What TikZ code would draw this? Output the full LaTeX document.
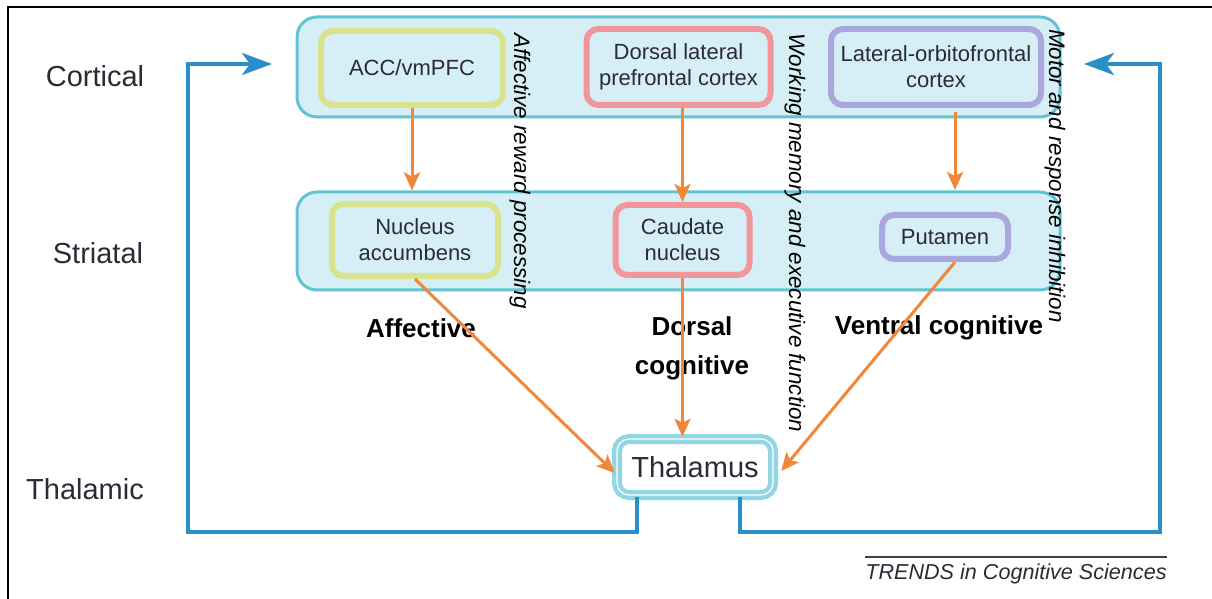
\documentclass[tikz,border=0pt]{standalone}
\usepackage{fontspec}
\setmainfont{Liberation Sans}
\usetikzlibrary{arrows.meta}
\definecolor{bandfill}{HTML}{D6EEF5}
\definecolor{bandline}{HTML}{62C3D3}
\definecolor{flowblue}{HTML}{2A8FC9}
\definecolor{flowor}{HTML}{F0873A}
\definecolor{txt}{HTML}{2B2B36}
\definecolor{accline}{HTML}{D9E38E}
\definecolor{dlpline}{HTML}{F2969B}
\definecolor{lofline}{HTML}{A9A7DD}
\definecolor{thline}{HTML}{92D6E6}
\begin{document}
\begin{tikzpicture}[x=0.5pt,y=-0.5pt,
  band/.style={draw=bandline,fill=bandfill,line width=1.5pt,rounded corners=10pt,
    minimum width=381.5pt,minimum height=50pt,inner sep=0pt},
  cbox/.style={draw=#1,fill=bandfill,line width=3pt,rounded corners=6pt,align=center,
    inner sep=0pt,text=txt,font=\fontsize{11}{13}\selectfont},
  lvl/.style={text=txt,font=\fontsize{14.5}{17}\selectfont},
  cat/.style={text=black,font=\bfseries\fontsize{13}{19.5}\selectfont,align=center},
  side/.style={rotate=-90,text=black,font=\itshape\fontsize{11.2}{13}\selectfont,inner sep=0pt},
  oarr/.style={draw=flowor,line width=1.5pt,-{Stealth[length=9pt,width=8pt,inset=2pt]}},
  barr/.style={draw=flowblue,line width=2pt,-{Stealth[length=15pt,width=11pt,inset=4pt]}}]
\useasboundingbox (0,0) rectangle (1212,599);
% frame
\draw[line width=1pt] (8,599) -- (8,7) -- (1212,7);
% bands
\node[band] (cor) at (678.5,67) {};
\node[band,minimum height=49pt] (str) at (678.5,241) {};
% cortical boxes
\node[cbox=accline,minimum width=91pt,minimum height=37pt] (acc) at (412,68) {ACC/vmPFC};
\node[cbox=dlpline,minimum width=92pt,minimum height=38pt] (dlp) at (678.5,67) {Dorsal lateral\\prefrontal cortex};
\node[cbox=lofline,minimum width=105pt,minimum height=38pt] (lof) at (936,67) {Lateral-orbitofrontal\\cortex};
% striatal boxes
\node[cbox=accline,minimum width=83pt,minimum height=36pt] (nac) at (415,240) {Nucleus\\accumbens};
\node[cbox=dlpline,minimum width=67pt,minimum height=35pt] (cau) at (682.5,240) {Caudate\\nucleus};
\node[cbox=lofline,minimum width=63pt,minimum height=22pt] (put) at (945,237) {Putamen};
% thalamus
\node[draw=thline,fill=white,line width=2.2pt,double=white,double distance=0.6pt,rounded corners=6pt,
  minimum width=78pt,minimum height=28pt,inner sep=0pt,text=txt,font=\fontsize{14.5}{17}\selectfont]
  (thal) at (695,467) {Thalamus};
% level labels
\node[lvl] (lc) at (95,76) {Cortical};
\node[lvl] (ls) at (98,253) {Striatal};
\node[lvl] (lt) at (85,489) {Thalamic};
% category labels
\node[cat] (caff) at (421,328) {Affective};
\node[cat] (cdor) at (692,348) {Dorsal\\cognitive};
\node[cat] (cven) at (939,328) {Ventral cognitive};
% side labels
\node[side] (saff) at (520,171) {Affective reward processing};
\node[side] (swm) at (795,233) {Working memory and executive function};
\node[side] (smot) at (1055,176) {Motor and response inhibition};
% orange connectors
\coordinate (o3s) at (955,112);
\coordinate (o3e) at (955,190);
\draw[oarr] (acc.south) -- (acc.south |- str.north);
\draw[oarr] (dlp.south -| cau) -- (cau.north);
\draw[oarr] (o3s) -- (o3e);
\draw[oarr] (nac.south) -- ([yshift=-3pt]thal.west);
\draw[oarr] (cau.south) -- (cau.south |- thal.north);
\draw[oarr] ([xshift=5pt]put.south) -- ([yshift=-2pt,xshift=3pt]thal.east);
% blue loops
\coordinate (lb) at (637,532);
\coordinate (lc1) at (188,532);
\coordinate (lc2) at (188,64);
\coordinate (lt1) at (272,64);
\coordinate (rb) at (740,532);
\coordinate (rc1) at (1160,532);
\coordinate (rc2) at (1160,64);
\coordinate (rt1) at (1084,64);
\draw[barr] (thal.south -| lb) -- (lb) -- (lc1) -- (lc2) -- (lt1);
\draw[barr] (thal.south -| rb) -- (rb) -- (rc1) -- (rc2) -- (rt1);
% source
\coordinate (s1) at (865,557);
\coordinate (s2) at (1167,557);
\draw[line width=0.8pt,draw=black!75] (s1) -- (s2);
\node[text=txt,font=\itshape\fontsize{10.8}{13}\selectfont] (src) at (1016,574) {TRENDS in Cognitive Sciences};
\end{tikzpicture}
\end{document}
